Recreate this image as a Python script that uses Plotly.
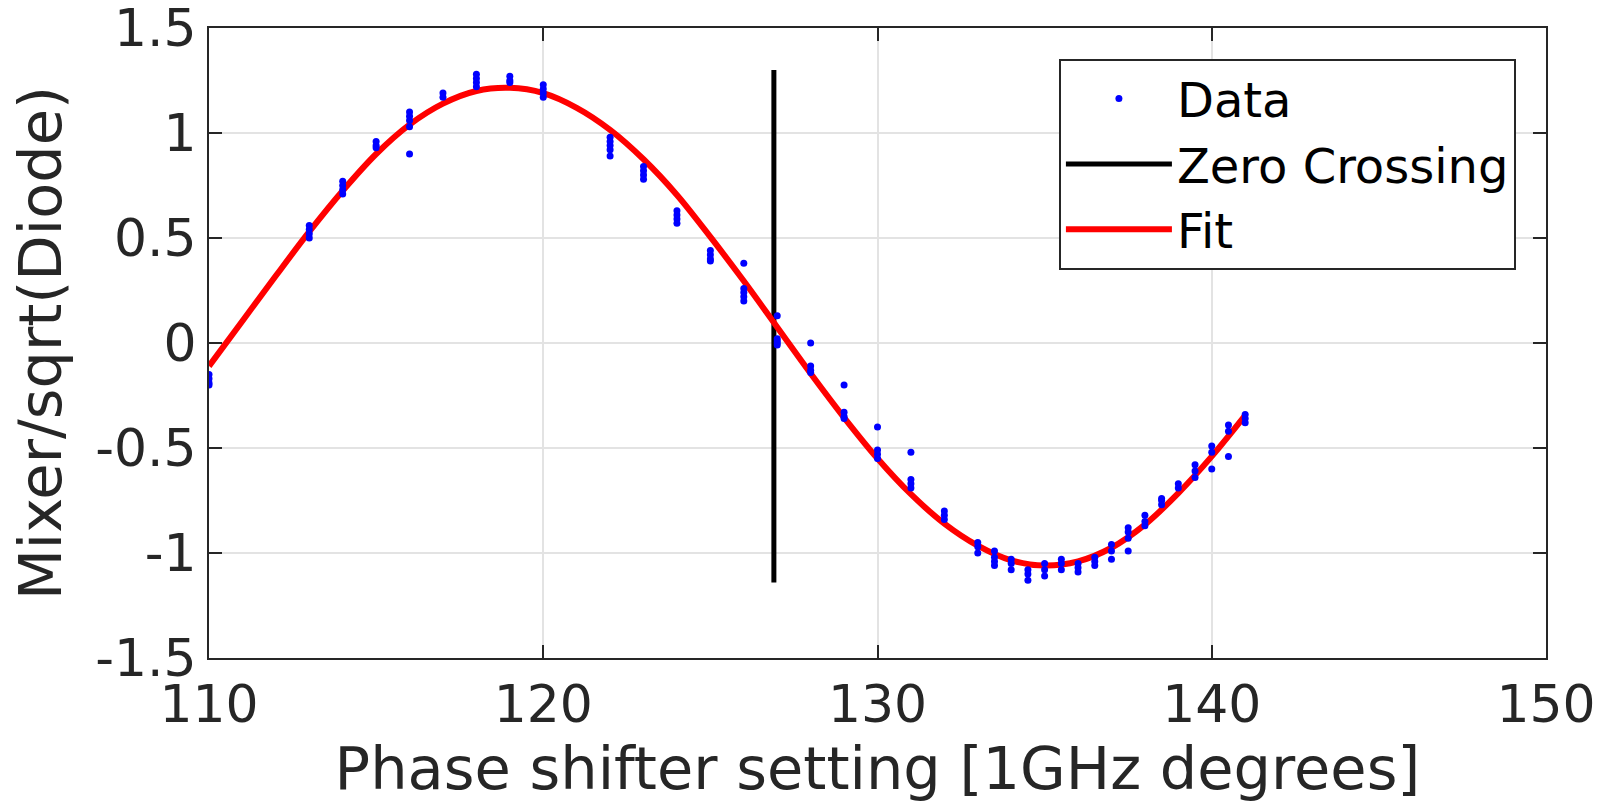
import plotly.graph_objects as go

# ---------------- data ----------------
x_tick_vals = [110, 120, 130, 140, 150]
y_tick_vals = [-1.5, -1, -0.5, 0, 0.5, 1, 1.5]
y_tick_text = ["-1.5", "-1", "-0.5", "0", "0.5", "1", "1.5"]

data_x = [
    110, 110, 110, 110,
    113, 113, 113, 113,
    114, 114, 114, 114,
    115, 115, 115,
    116, 116, 116, 116, 116,
    117, 117,
    118, 118, 118, 118,
    119, 119, 119,
    120, 120, 120, 120,
    122, 122, 122, 122, 122,
    123, 123, 123, 123,
    124, 124, 124, 124,
    125, 125, 125, 125,
    126, 126, 126, 126, 126,
    127, 127, 127, 127, 127,
    128, 128, 128, 128,
    129, 129, 129, 129,
    130, 130, 130, 130,
    131, 131, 131, 131,
    132, 132, 132,
    133, 133, 133,
    133.5, 133.5, 133.5, 133.5,
    134, 134, 134,
    134.5, 134.5, 134.5,
    135, 135, 135,
    135.5, 135.5, 135.5,
    136, 136, 136,
    136.5, 136.5, 136.5,
    137, 137, 137,
    137.5, 137.5, 137.5, 137.5,
    138, 138, 138,
    138.5, 138.5, 138.5,
    139, 139,
    139.5, 139.5, 139.5,
    140, 140, 140,
    140.5, 140.5, 140.5,
    141, 141, 141,
]
data_y = [
    -0.15, -0.17, -0.19, -0.20,
    0.56, 0.54, 0.52, 0.50,
    0.77, 0.75, 0.73, 0.71,
    0.96, 0.94, 0.93,
    1.10, 1.08, 1.06, 1.03, 0.90,
    1.19, 1.17,
    1.28, 1.26, 1.24, 1.22,
    1.27, 1.25, 1.24,
    1.23, 1.21, 1.19, 1.17,
    0.98, 0.96, 0.94, 0.92, 0.89,
    0.84, 0.82, 0.80, 0.78,
    0.63, 0.61, 0.59, 0.57,
    0.44, 0.42, 0.40, 0.39,
    0.38, 0.26, 0.24, 0.22, 0.20,
    0.13, 0.02, 0.01, 0.00, -0.01,
    0.00, -0.11, -0.13, -0.14,
    -0.20, -0.33, -0.35, -0.36,
    -0.40, -0.51, -0.53, -0.55,
    -0.52, -0.65, -0.67, -0.69,
    -0.80, -0.82, -0.84,
    -0.95, -0.97, -1.00,
    -0.99, -1.02, -1.04, -1.06,
    -1.03, -1.05, -1.08,
    -1.08, -1.10, -1.13,
    -1.05, -1.08, -1.11,
    -1.03, -1.05, -1.08,
    -1.05, -1.07, -1.09,
    -1.02, -1.04, -1.06,
    -0.96, -0.99, -1.03,
    -0.88, -0.90, -0.93, -0.99,
    -0.82, -0.85, -0.87,
    -0.74, -0.75, -0.77,
    -0.67, -0.69,
    -0.58, -0.61, -0.64,
    -0.49, -0.52, -0.60,
    -0.39, -0.42, -0.54,
    -0.34, -0.36, -0.38,
]

fit_x = [110, 111, 112, 113, 114, 115, 116, 117, 118, 119, 120, 121, 122, 123, 124, 125,
         126, 127, 128, 129, 130, 131, 132, 133, 134, 135, 136, 137, 138, 139, 140, 141]
fit_y = [-0.11, 0.105, 0.32, 0.53, 0.725, 0.90, 1.04, 1.14, 1.20, 1.215, 1.19, 1.12,
         1.015, 0.875, 0.705, 0.505, 0.295, 0.075, -0.145, -0.355, -0.55, -0.72, -0.86, -0.965,
         -1.035, -1.06, -1.04, -0.975, -0.865, -0.715, -0.54, -0.345]

zero_x = [126.9, 126.9]
zero_y = [-1.14, 1.30]

# ---------------- figure ----------------
FONT = "DejaVu Sans"
TXT = "#262626"

fig = go.Figure()

fig.add_trace(go.Scatter(
    x=zero_x, y=zero_y, mode="lines", name="Zero Crossing",
    line=dict(color="black", width=5), legendrank=2,
))
fig.add_trace(go.Scatter(
    x=fit_x, y=fit_y, mode="lines", name="Fit",
    line=dict(color="#ff0000", width=6, shape="spline", smoothing=1.0), legendrank=3,
))
fig.add_trace(go.Scatter(
    x=data_x, y=data_y, mode="markers", name="Data",
    marker=dict(color="#0000ff", size=7, line=dict(width=0)), legendrank=1,
))

axis_common = dict(
    showline=True, linecolor=TXT, linewidth=2, mirror="ticks",
    ticks="inside", ticklen=13, tickwidth=2, tickcolor=TXT,
    showgrid=True, gridcolor="#e3e3e3", gridwidth=1.5,
    zeroline=False, ticklabeloverflow="allow", automargin=False,
    tickfont=dict(family=FONT, size=52, color=TXT),
)

fig.update_xaxes(
    range=[110, 150.0001], tickvals=x_tick_vals, ticktext=[str(v) for v in x_tick_vals],
    title=dict(text="Phase shifter setting [1GHz degrees]",
               font=dict(family=FONT, size=59, color=TXT), standoff=2),
    **axis_common,
)
fig.update_yaxes(
    range=[-1.5001, 1.5001], tickvals=y_tick_vals, ticktext=y_tick_text,
    title=dict(text="Mixer/sqrt(Diode)",
               font=dict(family=FONT, size=59, color=TXT), standoff=14),
    **axis_common,
)

fig.update_layout(
    width=1609, height=803,
    margin=dict(l=209, r=63, t=28, b=145),
    paper_bgcolor="white", plot_bgcolor="white",
    showlegend=True,
    legend=dict(
        x=0.9775, xanchor="right", y=0.951, yanchor="top",
        bgcolor="white", bordercolor=TXT, borderwidth=2,
        font=dict(family=FONT, size=48, color="black"),
        itemwidth=106, tracegroupgap=0,
    ),
)

fig.write_html(
    "out.html",
    config={"displayModeBar": False},
    post_script="document.body.style.margin='0';document.body.style.overflow='hidden';",
)
